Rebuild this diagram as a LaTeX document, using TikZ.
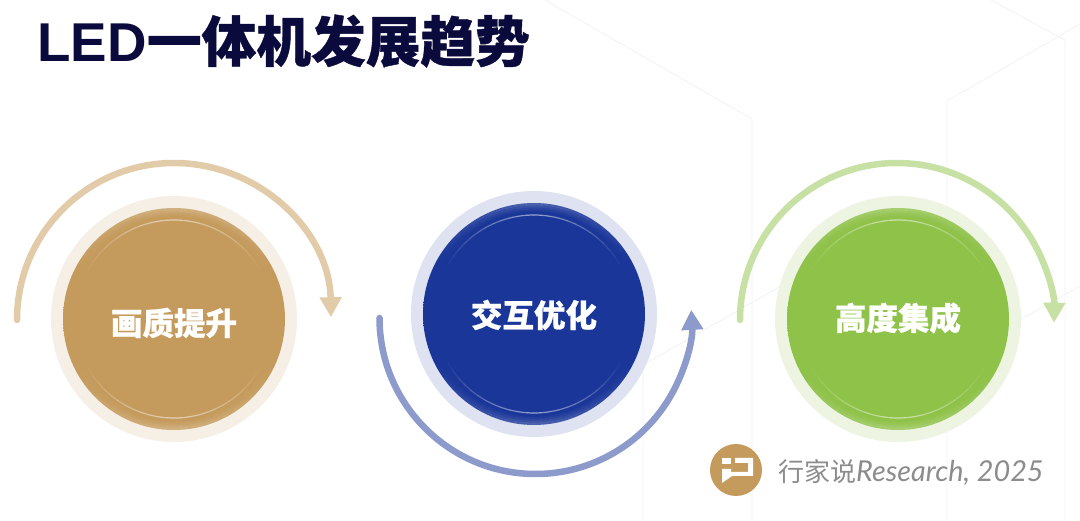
\documentclass[tikz,border=0pt]{standalone}
\usepackage{fontspec}
\usetikzlibrary{positioning,arrows.meta}
\setmainfont{Liberation Sans}
\newfontfamily\cjk[BoldFeatures={FakeBold=0.7}]{Noto Sans CJK SC}
\newfontfamily\latoit[ItalicFont={Lato Italic}]{Lato}
\definecolor{gold}{HTML}{C59B5D}
\definecolor{goldlt}{HTML}{D5B687}
\definecolor{goldring}{HTML}{F5EFE6}
\definecolor{goldarc}{HTML}{E2CBA8}
\definecolor{blu}{HTML}{1A3698}
\definecolor{blult}{HTML}{4D64B0}
\definecolor{blurng}{HTML}{DEE2F1}
\definecolor{bluarc}{HTML}{8C9BCC}
\definecolor{grn}{HTML}{8FC249}
\definecolor{grnlt}{HTML}{ABD27A}
\definecolor{grnrng}{HTML}{EDF4E2}
\definecolor{grnarc}{HTML}{C7E0A4}
\definecolor{navy}{HTML}{0A0A3C}
\pgfdeclareradialshading{goldball}{\pgfpointorigin}{color(0bp)=(gold); color(46bp)=(gold); color(50bp)=(goldlt)}
\pgfdeclareradialshading{bluball}{\pgfpointorigin}{color(0bp)=(blu); color(46bp)=(blu); color(50bp)=(blult)}
\pgfdeclareradialshading{grnball}{\pgfpointorigin}{color(0bp)=(grn); color(46bp)=(grn); color(50bp)=(grnlt)}
\tikzstyle{ring}=[circle, inner sep=0pt, minimum size=246pt]
\tikzstyle{ball}=[circle, inner sep=0pt, minimum size=222pt]
\tikzstyle{word}=[text=white, font=\cjk\bfseries\fontsize{31.5}{32}\selectfont]
\tikzstyle{flow}=[line width=6.5pt, -{Triangle[length=20pt,width=21pt,sharp]}]
\tikzstyle{hexline}=[draw=black!5, line width=0.8pt]
\newcommand{\glint}[1]{%
  \foreach \r/\w/\o in {99/1.2/0.55, 110/2.2/0.22, 108/2.2/0.15, 106/2.2/0.09, 104/2.2/0.04}{
    \foreach \a in {30,35,...,145}{
      \pgfmathsetmacro{\op}{\o*(1-abs(\a+2.5-90)/62)}
      \draw[white, line width=\w pt, opacity=\op] ([shift={(\a:\r pt)}]#1) arc[start angle=\a, delta angle=5, radius=\r pt];
      \draw[white, line width=\w pt, opacity=\op] ([shift={(-\a:\r pt)}]#1) arc[start angle=-\a, delta angle=-5, radius=\r pt];
    }}}

\begin{document}
\begin{tikzpicture}[x=1pt,y=1pt]
\useasboundingbox (0,0) rectangle (1080,-521);
\draw[hexline] (545,0) -- (752,-119) -- (752,-521);
\draw[hexline] (1080,-24) -- (947,-101) -- (947,-521);
\draw[hexline] (991,0) -- (1065,-40) -- (1065,-521);
\draw[hexline] (643,-521) -- (643,-365) -- (800,-275);
\draw[hexline] (1020,-320) -- (1080,-286);

\node[anchor=west, text=navy, font=\bfseries\fontsize{54.7}{55}\selectfont] (title) at (34,-41) {LED{\cjk 一体机发展趋势}};

\coordinate (c1) at (174,-319);
\coordinate (c2) at (534,-314);
\coordinate (c3) at (898,-319);

\node[ring, fill=goldring] (r1) at (c1) {};
\node[ball, shading=goldball] (b1) at (c1) {};
\glint{c1}
\node[word] (t1) at (174,-323) {画质提升};

\node[ring, fill=blurng] (r2) at (c2) {};
\node[ball, shading=bluball] (b2) at (c2) {};
\glint{c2}
\node[word] (t2) at (534,-315) {交互优化};

\node[ring, fill=grnrng] (r3) at (c3) {};
\node[ball, shading=grnball] (b3) at (c3) {};
\glint{c3}
\node[word] (t3) at (898,-318) {高度集成};

\coordinate (s1) at (17,-320);
\coordinate (s2) at (379.5,-318);
\coordinate (s3) at (740,-320);
\fill[goldarc] (s1) circle[radius=3.25pt];
\fill[bluarc] (s2) circle[radius=3.25pt];
\fill[grnarc] (s3) circle[radius=3.25pt];
\draw[flow, draw=goldarc] (s1) arc[start angle=180, end angle=1, radius=157pt];
\draw[flow, draw=bluarc] (s2) arc[start angle=180, end angle=363, radius=156pt];
\draw[flow, draw=grnarc] (s3) arc[start angle=180, end angle=-1, radius=157pt];

% logo
\node[circle, inner sep=0pt, minimum size=52pt, fill=gold] (logo) at (736,-470) {};
\fill[white] (722,-458) rectangle (731,-464);
\fill[white] (735,-458) -- (753,-458) -- (753,-476) -- (732,-476) -- (722,-483) -- (722,-469) -- (731,-469) -- (731,-472) -- (748,-472) -- (748,-463) -- (735,-463) -- cycle;
\node[anchor=west, text=black!45, inner sep=0pt, font=\fontsize{26}{26}\selectfont] (mark) at (778,-472) {{\cjk 行家说}{\latoit\itshape\fontsize{28.8}{29}\selectfont Research, 2025}};
\end{tikzpicture}
\end{document}
